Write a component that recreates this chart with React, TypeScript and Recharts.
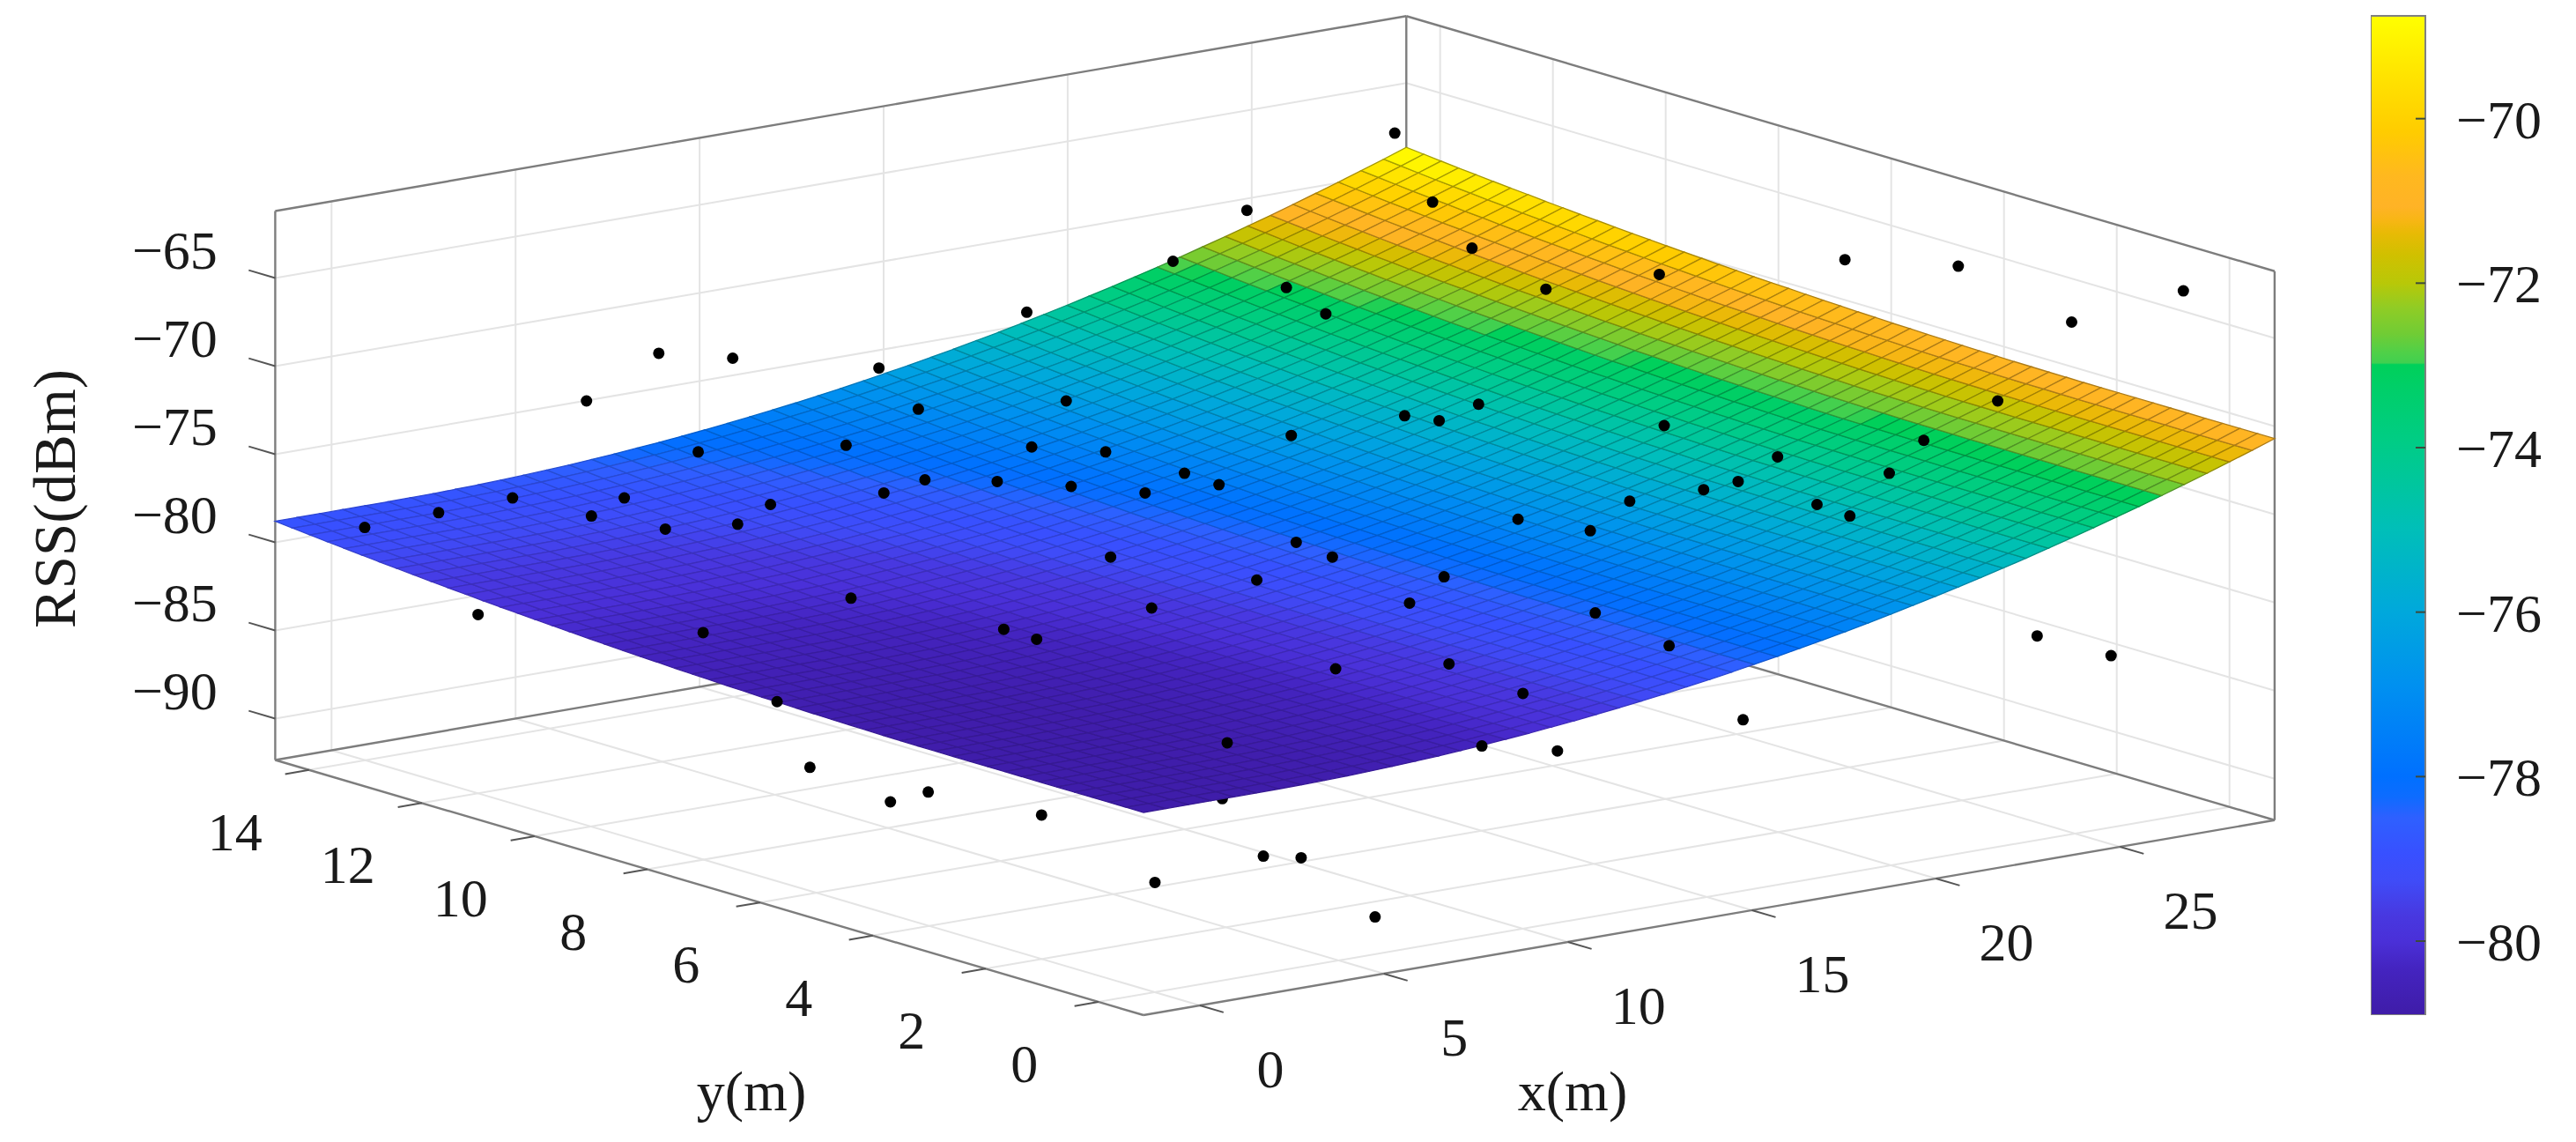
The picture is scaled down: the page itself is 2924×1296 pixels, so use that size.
import { ReferenceArea, Scatter, ScatterChart, XAxis, YAxis } from "recharts";

const WIDTH = 2924;
const HEIGHT = 1296;
const FONT = "'Liberation Serif', serif";
const REF_SCALE = 2924 / 1568;

// axis limits
const X_LIM = [-1.53, 29.2];
const Y_LIM = [-0.8, 14.6];
const Z_LIM = [-92.35, -61.2];

const xTicks = [0, 5, 10, 15, 20, 25];
const yTicks = [0, 2, 4, 6, 8, 10, 12, 14];
const zTicks = [-90, -85, -80, -75, -70, -65];
const barTicks = [-80, -78, -76, -74, -72, -70];
const BAR_DOMAIN = [-80.9, -68.75];

// surface: RSS at the front corner, then the rise along each edge, one per mesh line
const FRONT_RSS = -80.85;
const riseAlongX = [
  0, 0, 0, 0, 0, 0, 0.01, 0.02, 0.05, 0.08, 0.13, 0.18, 0.25, 0.32, 0.41, 0.5, 0.61, 0.72, 0.85, 0.98, 1.13, 1.28, 1.45,
  1.62, 1.81, 2.0, 2.21, 2.43, 2.65, 2.89, 3.13, 3.39, 3.65, 3.93, 4.22, 4.51, 4.82, 5.13, 5.46, 5.79, 6.14, 6.5, 6.86,
  7.24, 7.62, 8.02, 8.43, 8.84, 9.27, 9.7, 10.15,
];
const riseAlongY = [
  0, 0, 0, 0, 0, 0, 0, 0, 0, 0, 0, 0, 0.01, 0.01, 0.02, 0.03, 0.05, 0.06, 0.08, 0.1, 0.13, 0.16, 0.18, 0.22, 0.25, 0.29,
  0.33, 0.37, 0.42, 0.46, 0.51, 0.57, 0.62, 0.68, 0.74, 0.8, 0.87, 0.93, 1.0, 1.08, 1.15, 1.23, 1.31, 1.4, 1.48, 1.57,
  1.66, 1.75, 1.85, 1.95, 2.05,
];

// colorbar levels
const barLevels = [
  -80.9, -80.33, -80, -79.69, -79.26, -78.94, -78.5, -78.24, -78, -76.9, -76, -74.98, -73.9, -73.27, -72.99, -72.97,
  -72.84, -72.62, -72.3, -72, -71.66, -71.39, -71.23, -71.07, -70.7, -70.16, -69.63, -69.2, -68.75,
];
const barColors = [
  "#3f1ca8", "#4424c0", "#4a30d8", "#4838e0", "#3f4cf8", "#3850ff", "#2e60ff", "#0d6cff", "#0070ff", "#0090f0",
  "#00a8dc", "#00bfb8", "#00cd84", "#00cf68", "#00d05a", "#40d050", "#50d048", "#70cc35", "#90cc25", "#b8c808",
  "#d0c000", "#e8ba05", "#f8b615", "#ffb326", "#ffb81f", "#ffcc00", "#ffde00", "#ffee00", "#ffff00",
];

// measured samples, as positions on the picture (in the 1568 wide view)
const dotsOnTop = [
  [222, 321], [267, 312], [312, 303], [360, 314], [380, 303], [405, 322], [449, 319], [469, 307], [425, 275], [357, 244],
  [401, 215], [446, 218], [515, 271], [535, 224], [559, 249], [625, 190], [714, 159], [759, 128], [849, 81], [872, 123],
  [896, 151], [941, 176], [1010, 167], [1123, 158], [1192, 162], [1261, 196], [1329, 177], [1216, 244], [1171, 268],
  [1150, 288], [1126, 314], [1106, 307], [1082, 278], [1058, 293], [1037, 298], [1013, 259], [992, 305], [968, 323],
  [924, 316], [900, 246], [876, 256], [855, 253], [786, 265], [807, 191], [783, 175], [649, 244], [673, 275], [628, 272],
  [652, 296], [607, 293], [563, 292], [538, 300], [697, 300], [721, 288], [742, 295], [676, 339], [789, 330], [811, 339],
  [765, 353], [879, 351], [858, 367], [701, 370], [518, 364], [428, 385], [611, 383], [631, 389], [971, 373], [1016, 393],
  [813, 407], [882, 404], [927, 422], [1061, 438], [747, 452], [902, 454], [948, 457], [291, 374], [473, 427], [493, 467],
  [542, 488], [565, 482], [634, 496], [703, 537], [769, 521], [792, 522], [837, 558], [1240, 387], [1285, 399],
];
const dotsBehind = [[744, 486], [1195, 336]];

function project(x: number, y: number, z: number) {
  const dx = x - X_LIM[0];
  const dy = y - Y_LIM[0];
  const dz = z - Z_LIM[0];
  return { u: 1298 + 41.78 * dx - 64 * dy, v: 1152 - 7.2 * dx - 18.8 * dy - 20 * dz };
}

function colorAt(value: number) {
  let i = 0;
  while (i < barLevels.length - 2 && value > barLevels[i + 1]) i++;
  const t = Math.max(0, Math.min(1, (value - barLevels[i]) / (barLevels[i + 1] - barLevels[i])));
  const a = barColors[i];
  const b = barColors[i + 1];
  const rgb = [1, 3, 5].map((p) => {
    const c0 = parseInt(a.slice(p, p + 2), 16);
    const c1 = parseInt(b.slice(p, p + 2), 16);
    return Math.round(c0 + (c1 - c0) * t);
  });
  return rgb;
}

const meshX = riseAlongX.map((_, i) => X_LIM[0] + ((X_LIM[1] - X_LIM[0]) * i) / (riseAlongX.length - 1));
const meshY = riseAlongY.map((_, j) => Y_LIM[0] + ((Y_LIM[1] - Y_LIM[0]) * j) / (riseAlongY.length - 1));
const rssAt = (i: number, j: number) => FRONT_RSS + riseAlongX[i] + riseAlongY[j];

const cells: any[] = [];
for (let j = riseAlongY.length - 2; j >= 0; j--) {
  for (let i = 0; i < riseAlongX.length - 1; i++) {
    const corners = [
      project(meshX[i], meshY[j], rssAt(i, j)),
      project(meshX[i + 1], meshY[j], rssAt(i + 1, j)),
      project(meshX[i + 1], meshY[j + 1], rssAt(i + 1, j + 1)),
      project(meshX[i], meshY[j + 1], rssAt(i, j + 1)),
    ];
    const mean = (rssAt(i, j) + rssAt(i + 1, j) + rssAt(i + 1, j + 1) + rssAt(i, j + 1)) / 4;
    const rgb = colorAt(mean);
    // mesh reads fainter on the low, dark end of the surface
    const shade = 0.86 - 0.22 * ((mean - BAR_DOMAIN[0]) / (BAR_DOMAIN[1] - BAR_DOMAIN[0]));
    cells.push({
      u: corners[0].u,
      v: corners[0].v,
      corners,
      fill: `rgb(${rgb.join(",")})`,
      edge: `rgb(${rgb.map((c) => Math.round(c * shade)).join(",")})`,
    });
  }
}

function seg(a: number[], b: number[]) {
  return [project(a[0], a[1], a[2]), project(b[0], b[1], b[2])];
}

const [x0, x1] = X_LIM;
const [y0, y1] = Y_LIM;
const [z0, z1] = Z_LIM;

const gridLines = [
  ...zTicks.flatMap((z) => [seg([x0, y1, z], [x1, y1, z]), seg([x1, y1, z], [x1, y0, z])]),
  ...xTicks.flatMap((x) => [seg([x, y0, z0], [x, y1, z0]), seg([x, y1, z0], [x, y1, z1])]),
  ...yTicks.flatMap((y) => [seg([x0, y, z0], [x1, y, z0]), seg([x1, y, z0], [x1, y, z1])]),
];

const boxLines = [
  seg([x0, y0, z0], [x1, y0, z0]),
  seg([x0, y0, z0], [x0, y1, z0]),
  seg([x0, y1, z0], [x0, y1, z1]),
  seg([x1, y1, z0], [x1, y1, z1]),
  seg([x1, y0, z0], [x1, y0, z1]),
  seg([x0, y1, z1], [x1, y1, z1]),
  seg([x1, y1, z1], [x1, y0, z1]),
  seg([x0, y1, z0], [x1, y1, z0]),
  seg([x1, y1, z0], [x1, y0, z0]),
];

const tickMarks = [
  ...xTicks.map((x) => seg([x, y0, z0], [x, y0 - 0.42, z0])),
  ...yTicks.map((y) => seg([x0, y, z0], [x0 - 0.65, y, z0])),
  ...zTicks.map((z) => seg([x0, y1, z], [x0, y1 + 0.47, z])),
];

const minus = (n: number) => String(n).replace("-", "\u2212");

const tickLabels = [
  ...xTicks.map((x) => {
    const p = project(x, y0, z0);
    return { u: p.u + 80, v: p.v + 72, text: String(x), size: 62 };
  }),
  ...yTicks.map((y) => {
    const p = project(x0, y, z0);
    return { u: p.u - 84, v: p.v + 70, text: String(y), size: 62 };
  }),
  ...zTicks.map((z) => {
    const p = project(x0, y1, z);
    return { u: p.u - 114, v: p.v - 32, text: minus(z), size: 62 };
  }),
];

const axisTitles = [
  { u: 853, v: 1238, text: "y(m)", size: 64 },
  { u: 1785, v: 1238, text: "x(m)", size: 64 },
  { u: 62, v: 566, text: "RSS(dBm)", size: 67, rotate: -90 },
];

function CellShape(props: any) {
  const { cx, cy, payload } = props;
  const pts = payload.corners.map((c: any) => `${c.u - payload.u + cx},${c.v - payload.v + cy}`).join(" ");
  return <polygon points={pts} fill={payload.fill} stroke={payload.edge} strokeWidth={1.3} />;
}

function TextShape(props: any) {
  const { cx, cy, payload } = props;
  return (
    <text
      x={cx}
      y={cy}
      dy="0.34em"
      textAnchor="middle"
      fontFamily={FONT}
      fontSize={payload.size}
      fill="#1a1a1a"
      transform={payload.rotate ? `rotate(${payload.rotate} ${cx} ${cy})` : undefined}
    >
      {payload.text}
    </text>
  );
}

const NoDot = () => null;
const toPoints = (list: number[][]) => list.map(([a, b]) => ({ u: a * REF_SCALE, v: b * REF_SCALE }));

function ColorBar() {
  const [lo, hi] = BAR_DOMAIN;
  return (
    <ScatterChart width={233} height={1152} margin={{ top: 18, right: 0, bottom: 0, left: 0 }}>
      <defs>
        <linearGradient id="barFill" x1="0" y1="0" x2="0" y2="1">
          {[...barLevels].reverse().map((lvl, i) => (
            <stop key={i} offset={(hi - lvl) / (hi - lo)} stopColor={barColors[barColors.length - 1 - i]} />
          ))}
        </linearGradient>
      </defs>
      <XAxis dataKey="k" type="number" domain={[0, 1]} hide />
      <YAxis
        dataKey="lvl"
        orientation="right"
        type="number"
        width={171}
        domain={BAR_DOMAIN}
        ticks={barTicks}
        interval={0}
        tickFormatter={minus}
        axisLine={false}
        tickSize={-11}
        tickMargin={46}
        tickLine={{ stroke: "#3c4a3c", strokeWidth: 2 }}
        tick={{ fontFamily: FONT, fontSize: 62, fill: "#1a1a1a", textAnchor: "start" }}
      />
      <ReferenceArea x1={0} x2={1} y1={lo} y2={hi} fill="url(#barFill)" fillOpacity={1} stroke="#808080" strokeWidth={2} />
      <Scatter data={[{ k: 0, lvl: lo }, { k: 1, lvl: hi }]} shape={NoDot} isAnimationActive={false} />
    </ScatterChart>
  );
}

export default function App() {
  return (
    <div style={{ position: "absolute", left: 0, top: 0, width: WIDTH, height: HEIGHT, background: "#fff", overflow: "hidden", filter: "blur(0.7px)" }}>
      <ScatterChart width={WIDTH} height={HEIGHT} margin={{ top: 0, right: 0, bottom: 0, left: 0 }}>
        <XAxis type="number" dataKey="u" domain={[0, WIDTH]} hide allowDataOverflow />
        <YAxis type="number" dataKey="v" domain={[0, HEIGHT]} reversed hide allowDataOverflow />
        {gridLines.map((line, i) => (
          <Scatter key={`g${i}`} data={line} line={{ stroke: "#e4e4e4", strokeWidth: 2 }} shape={NoDot} isAnimationActive={false} />
        ))}
        {boxLines.map((line, i) => (
          <Scatter key={`b${i}`} data={line} line={{ stroke: "#7d7d7d", strokeWidth: 2.4 }} shape={NoDot} isAnimationActive={false} />
        ))}
        {tickMarks.map((line, i) => (
          <Scatter key={`t${i}`} data={line} line={{ stroke: "#555", strokeWidth: 2 }} shape={NoDot} isAnimationActive={false} />
        ))}
        <Scatter data={toPoints(dotsBehind)} fill="#000" shape={(p: any) => <circle cx={p.cx} cy={p.cy} r={6.5} fill="#000" />} isAnimationActive={false} />
        <Scatter data={cells} shape={CellShape} isAnimationActive={false} />
        <Scatter data={toPoints(dotsOnTop)} fill="#000" shape={(p: any) => <circle cx={p.cx} cy={p.cy} r={6.5} fill="#000" />} isAnimationActive={false} />
        <Scatter data={tickLabels} shape={TextShape} isAnimationActive={false} />
        <Scatter data={axisTitles} shape={TextShape} isAnimationActive={false} />
      </ScatterChart>
      <div style={{ position: "absolute", left: 2691, top: 0 }}>
        <ColorBar />
      </div>
    </div>
  );
}
